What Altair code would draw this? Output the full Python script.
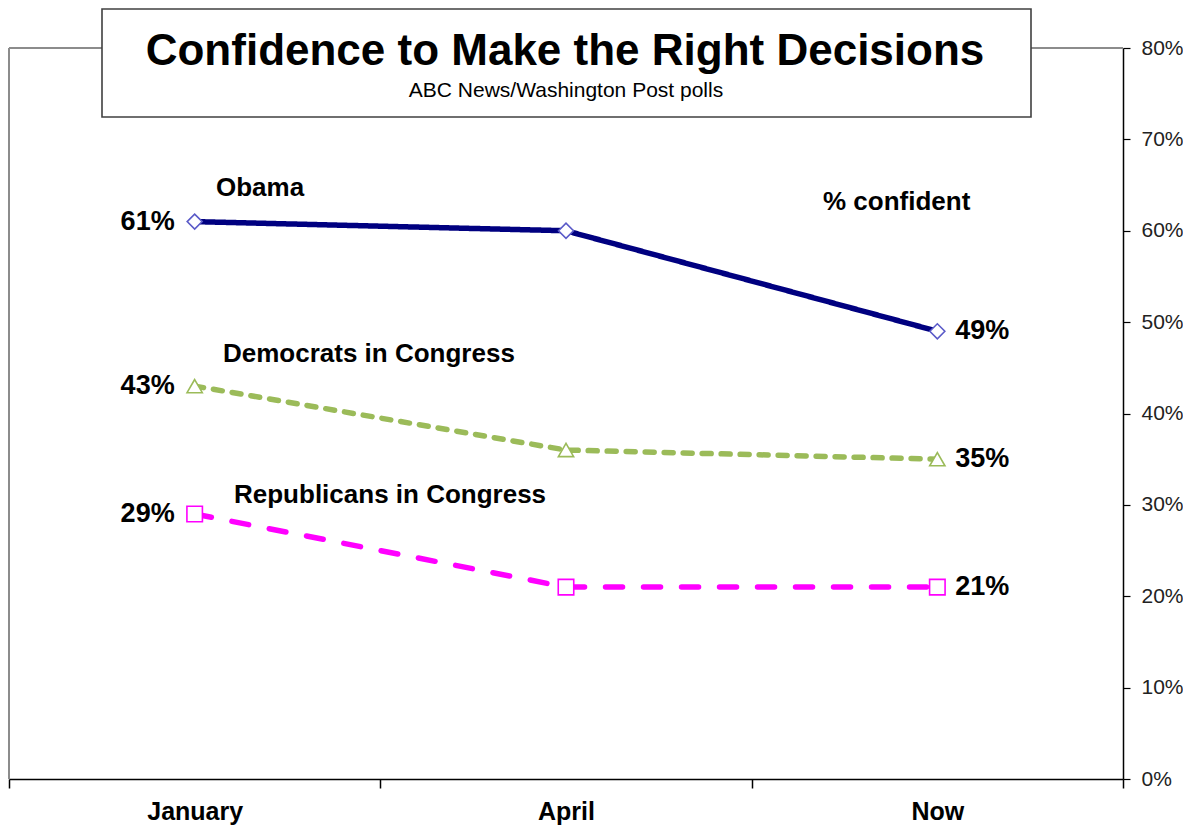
import altair as alt
import pandas as pd

months = ["January", "April", "Now"]
series_names = ["Obama", "Democrats in Congress", "Republicans in Congress"]
obama = [61, 60, 49]
democrats = [43, 36, 35]
republicans = [29, 21, 21]
y_ticks = [0, 10, 20, 30, 40, 50, 60, 70, 80]

title_text = "Confidence to Make the Right Decisions"
subtitle_text = "ABC News/Washington Post polls"
note_text = "% confident"

rows = []
for name, vals in zip(series_names, [obama, democrats, republicans]):
    for m, v in zip(months, vals):
        rows.append({"month": m, "series": name, "value": v})
df = pd.DataFrame(rows)

W, H = 1114, 731
FONT = "Liberation Sans"

line_colors = ["#000080", "#9BBB59", "#FF00FF"]
marker_colors = ["#5A5AC8", "#9BBB59", "#FF00FF"]
dashes = [[1, 0], [9, 10], [17, 21]]
shapes = ["diamond", "triangle-up", "square"]

x_enc = alt.X(
    "month:N", sort=months, bandPosition=0.5,
    scale=alt.Scale(type="band", domain=months, paddingInner=0, paddingOuter=0),
    axis=alt.Axis(title=None, tickBand="extent", tickSize=9, tickColor="#000",
                  tickWidth=1.5, domainColor="#000", domainWidth=1.5,
                  labelFont=FONT, labelFontSize=25, labelFontWeight="bold",
                  labelColor="#000", labelPadding=11, labelBaseline="top",
                  labelAngle=0, labelAlign="center", grid=False),
)
y_enc = alt.Y(
    "value:Q",
    scale=alt.Scale(domain=[0, 80], nice=False, zero=True),
    axis=alt.Axis(title=None, orient="right", values=y_ticks,
                  labelExpr="datum.value + '%'", tickSize=7, tickColor="#000",
                  tickWidth=1.2, domainColor="#000", domainWidth=1.5,
                  labelFont=FONT, labelFontSize=21, labelColor="#222",
                  labelPadding=11, grid=False),
)

base = alt.Chart(df)

frame_left = base.mark_rule(color="#8c8c8c", strokeWidth=1.5).encode(
    x=alt.value(0), y=alt.value(0), y2=alt.value(H))
frame_top = base.mark_rule(color="#8c8c8c", strokeWidth=1.5).encode(
    x=alt.value(0), x2=alt.value(W), y=alt.value(0))

lines = base.mark_line(strokeCap="round").encode(
    x=x_enc, y=y_enc,
    color=alt.Color("series:N", scale=alt.Scale(domain=series_names, range=line_colors), legend=None),
    strokeDash=alt.StrokeDash("series:N", scale=alt.Scale(domain=series_names, range=dashes), legend=None),
    strokeWidth=alt.StrokeWidth("series:N", scale=alt.Scale(domain=series_names, range=[5.5, 5.5, 5.5]), legend=None),
)

points = base.mark_point(filled=True, strokeWidth=1.6, opacity=1).encode(
    x=x_enc, y=y_enc,
    fill=alt.value("white"),
    stroke=alt.Stroke("series:N", scale=alt.Scale(domain=series_names, range=marker_colors), legend=None),
    shape=alt.Shape("series:N", scale=alt.Scale(domain=series_names, range=shapes), legend=None),
    size=alt.Size("series:N", scale=alt.Scale(domain=series_names, range=[225, 240, 150]), legend=None),
)

first_labels = base.transform_filter(alt.datum.month == months[0]).transform_calculate(
    lab="datum.value + '%'").mark_text(
    align="right", baseline="middle", dx=-20, font=FONT, fontSize=27,
    fontWeight="bold", color="#000").encode(x=x_enc, y=y_enc, text="lab:N")
last_labels = base.transform_filter(alt.datum.month == months[-1]).transform_calculate(
    lab="datum.value + '%'").mark_text(
    align="left", baseline="middle", dx=18, font=FONT, fontSize=27,
    fontWeight="bold", color="#000").encode(x=x_enc, y=y_enc, text="lab:N")

ann = alt.Chart(pd.DataFrame({"t": [0]}))

def label(txt, x, y, size=26):
    return ann.mark_text(align="left", baseline="middle", font=FONT, fontSize=size,
                         fontWeight="bold", color="#000").encode(
        x=alt.value(x), y=alt.value(y), text=alt.value(txt))

series_labels = (label(series_names[0], 207, 140) + label(note_text, 814, 154)
                 + label(series_names[1], 214, 306) + label(series_names[2], 225, 447))

title_box = ann.mark_rect(fill="white", stroke="#404040", strokeWidth=1.6).encode(
    x=alt.value(93), x2=alt.value(1022), y=alt.value(-39), y2=alt.value(69))
title = ann.mark_text(align="center", baseline="alphabetic", font=FONT, fontSize=44,
                      fontWeight="bold", color="#000").encode(
    x=alt.value(556), y=alt.value(17), text=alt.value(title_text))
subtitle = ann.mark_text(align="center", baseline="alphabetic", font=FONT, fontSize=21,
                         color="#000").encode(
    x=alt.value(557), y=alt.value(49), text=alt.value(subtitle_text))

chart = alt.layer(
    frame_left, frame_top, lines, points, first_labels, last_labels,
    series_labels, title_box, title, subtitle
).properties(
    width=W, height=H,
    autosize=alt.AutoSizeParams(type="none"),
    padding={"left": 1, "top": 40, "right": 60, "bottom": 47},
    background="white",
).configure_view(stroke=None)

chart.save("out.html", embed_options={"renderer": "svg", "actions": False})
